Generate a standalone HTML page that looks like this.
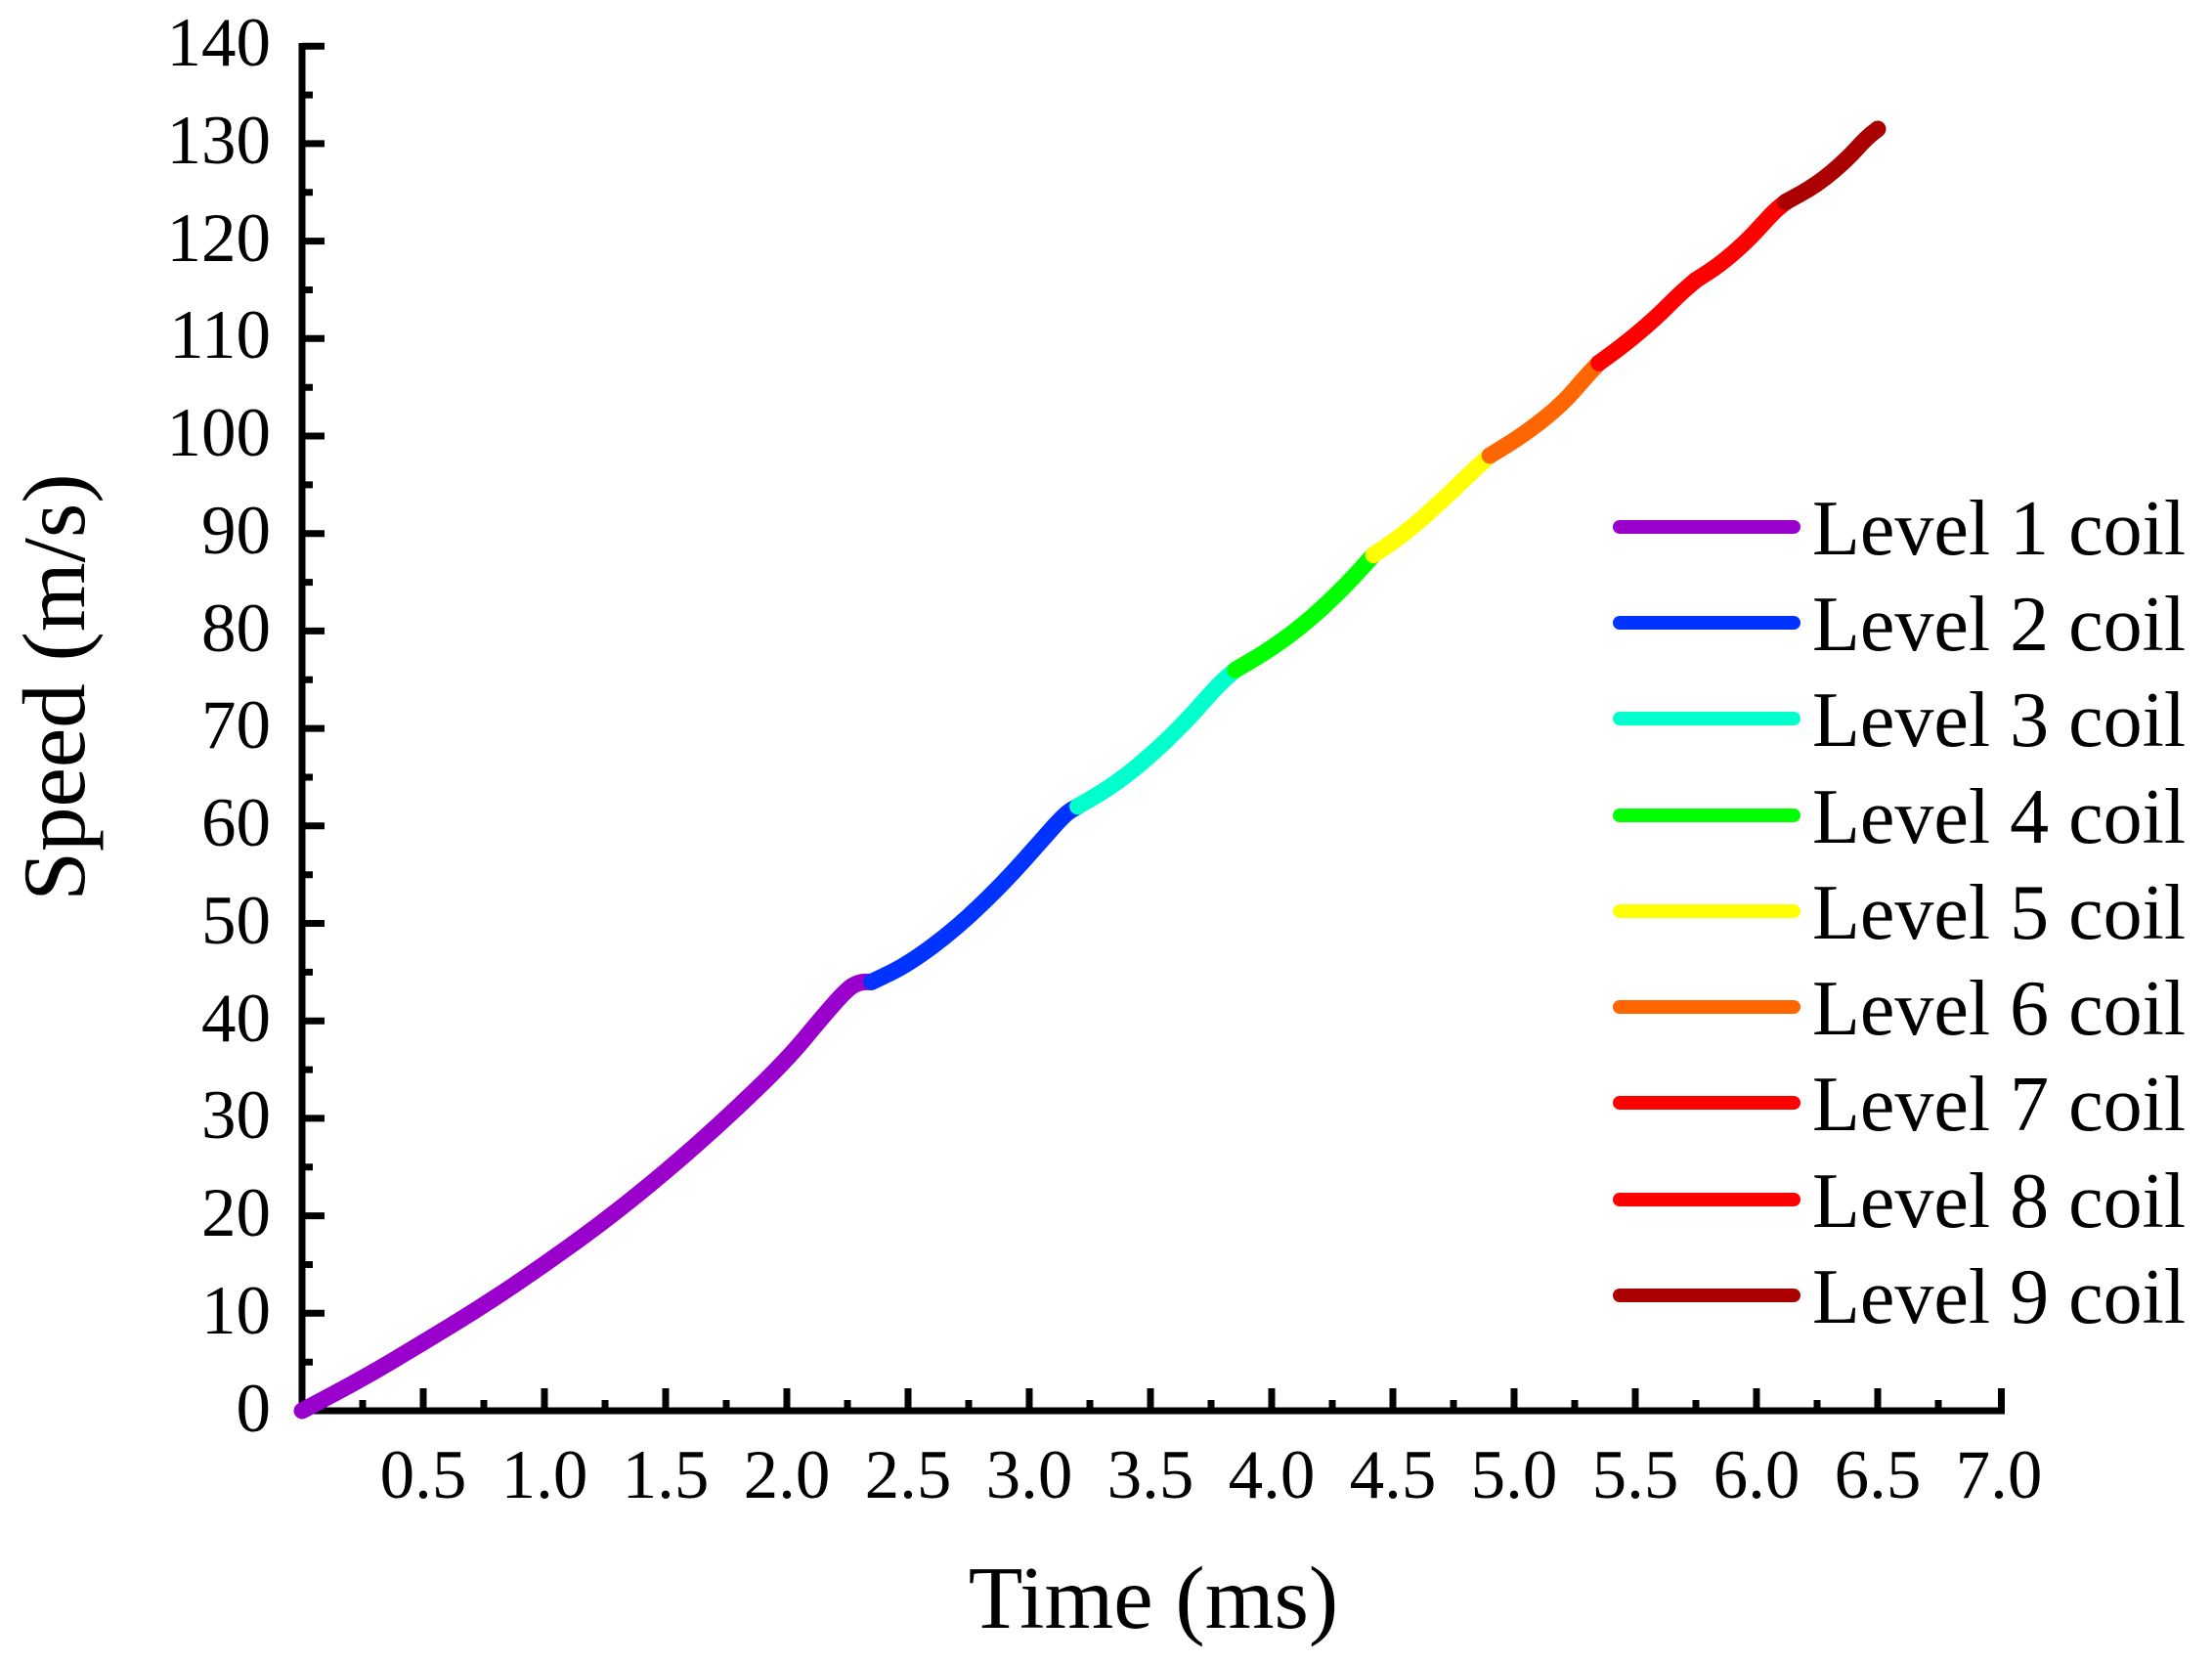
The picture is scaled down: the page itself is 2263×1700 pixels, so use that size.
<!DOCTYPE html>
<html><head><meta charset="utf-8"><style>
html,body{margin:0;padding:0;background:#fff}
svg{display:block}
text{font-family:"Liberation Serif",serif;fill:#000}
</style></head><body>
<svg width="2263" height="1700" viewBox="0 0 2263 1700" xmlns="http://www.w3.org/2000/svg">
<g stroke="#000" stroke-width="7" fill="none">
<line x1="309" y1="44" x2="309" y2="1446.5"/>
<line x1="305.5" y1="1443" x2="2051" y2="1443"/>
</g>
<g transform="translate(309,1443) scale(248,-9.97)" fill="none" stroke-width="17" stroke-linecap="round" stroke-linejoin="round">
<path vector-effect="non-scaling-stroke" stroke="#9900cc" d="M0,0 L0.125,1.65 Q0.25,3.3 0.375,5.15 Q0.5,7 0.625,8.9 Q0.75,10.8 0.875,12.9 Q1,15 1.125,17.25 Q1.25,19.5 1.375,22 Q1.5,24.5 1.625,27.25 Q1.75,30 1.875,33 Q2,36 2.075,38.25 Q2.15,40.5 2.2,41.9 Q2.25,43.3 2.275,43.65 Q2.3,44 2.325,44 L2.35,44"/>
<path vector-effect="non-scaling-stroke" stroke="#0033ff" d="M2.35,44 L2.425,44.9 Q2.5,45.8 2.6,47.65 Q2.7,49.5 2.8,51.9 Q2.9,54.3 2.975,56.4 Q3.05,58.5 3.1,59.9 Q3.15,61.3 3.175,61.65 L3.2,62"/>
<path vector-effect="non-scaling-stroke" stroke="#00ffcc" d="M3.2,62 L3.275,63.1 Q3.35,64.2 3.425,65.7 Q3.5,67.2 3.575,69 Q3.65,70.8 3.715,72.65 Q3.78,74.5 3.815,75.25 L3.85,76"/>
<path vector-effect="non-scaling-stroke" stroke="#00ff00" d="M3.85,76 L3.925,77.1 Q4,78.2 4.075,79.6 Q4.15,81 4.225,82.75 Q4.3,84.5 4.36,86.15 L4.42,87.8"/>
<path vector-effect="non-scaling-stroke" stroke="#ffff00" d="M4.42,87.8 L4.485,88.9 Q4.55,90 4.625,91.65 Q4.7,93.3 4.76,94.75 Q4.82,96.2 4.86,97.1 L4.9,98"/>
<path vector-effect="non-scaling-stroke" stroke="#ff6600" d="M4.9,98 L4.975,99.15 Q5.05,100.3 5.125,101.8 Q5.2,103.3 5.25,104.75 Q5.3,106.2 5.325,106.85 L5.35,107.5"/>
<path vector-effect="non-scaling-stroke" stroke="#ff0000" d="M5.35,107.5 L5.4,108.4 Q5.45,109.3 5.515,110.65 Q5.58,112 5.63,113.25 Q5.68,114.5 5.715,115.25 L5.75,116"/>
<path vector-effect="non-scaling-stroke" stroke="#ff0000" d="M5.75,116 L5.8,116.8 Q5.85,117.6 5.91,118.9 Q5.97,120.2 6.02,121.6 Q6.07,123 6.095,123.5 L6.12,124"/>
<path vector-effect="non-scaling-stroke" stroke="#aa0000" d="M6.12,124 L6.185,124.9 Q6.25,125.8 6.31,127.05 Q6.37,128.3 6.41,129.4 Q6.45,130.5 6.475,131 L6.5,131.5"/>
</g>
<g stroke-width="14" stroke-linecap="round">
<line x1="1657" y1="539" x2="1835" y2="539" stroke="#9900cc"/>
<line x1="1657" y1="637" x2="1835" y2="637" stroke="#0033ff"/>
<line x1="1657" y1="735" x2="1835" y2="735" stroke="#00ffcc"/>
<line x1="1657" y1="834" x2="1835" y2="834" stroke="#00ff00"/>
<line x1="1657" y1="932" x2="1835" y2="932" stroke="#ffff00"/>
<line x1="1657" y1="1030" x2="1835" y2="1030" stroke="#ff6600"/>
<line x1="1657" y1="1128" x2="1835" y2="1128" stroke="#ff0000"/>
<line x1="1657" y1="1227" x2="1835" y2="1227" stroke="#ff0000"/>
<line x1="1657" y1="1325" x2="1835" y2="1325" stroke="#aa0000"/>
</g>
<g font-size="80">
<text x="1854" y="567">Level 1 coil</text>
<text x="1854" y="665">Level 2 coil</text>
<text x="1854" y="763">Level 3 coil</text>
<text x="1854" y="862">Level 4 coil</text>
<text x="1854" y="960">Level 5 coil</text>
<text x="1854" y="1058">Level 6 coil</text>
<text x="1854" y="1156">Level 7 coil</text>
<text x="1854" y="1255">Level 8 coil</text>
<text x="1854" y="1353">Level 9 coil</text>
</g>
<text x="1180" y="1665" font-size="91" text-anchor="middle">Time (ms)</text>
<text transform="translate(86,703) rotate(-90)" font-size="91" text-anchor="middle">Speed (m/s)</text>
<g font-size="71" text-anchor="end">
<text x="277" y="1464">0</text><text x="277" y="1364">10</text><text x="277" y="1264">20</text><text x="277" y="1164">30</text><text x="277" y="1065">40</text><text x="277" y="965">50</text><text x="277" y="865">60</text><text x="277" y="765">70</text><text x="277" y="666">80</text><text x="277" y="566">90</text><text x="277" y="466">100</text><text x="277" y="366">110</text><text x="277" y="267">120</text><text x="277" y="167">130</text><text x="277" y="67">140</text>
</g>
<g font-size="71" text-anchor="middle">
<text x="433" y="1532">0.5</text><text x="557" y="1532">1.0</text><text x="681" y="1532">1.5</text><text x="805" y="1532">2.0</text><text x="929" y="1532">2.5</text><text x="1053" y="1532">3.0</text><text x="1177" y="1532">3.5</text><text x="1301" y="1532">4.0</text><text x="1425" y="1532">4.5</text><text x="1549" y="1532">5.0</text><text x="1673" y="1532">5.5</text><text x="1797" y="1532">6.0</text><text x="1921" y="1532">6.5</text><text x="2045" y="1532">7.0</text>
</g>
<g stroke="#000" stroke-width="7">
<path d="M309 1343.3h23M309 1243.6h23M309 1143.9h23M309 1044.2h23M309 944.5h23M309 844.8h23M309 745.1h23M309 645.4h23M309 545.7h23M309 446h23M309 346.3h23M309 246.6h23M309 146.9h23M309 47.2h23"/>
<path d="M309 1393.2h11M309 1293.5h11M309 1193.8h11M309 1094.1h11M309 994.4h11M309 894.7h11M309 795h11M309 695.3h11M309 595.6h11M309 495.9h11M309 396.2h11M309 296.5h11M309 196.8h11M309 97.1h11"/>
<path d="M433 1443v-23M557 1443v-23M681 1443v-23M805 1443v-23M929 1443v-23M1053 1443v-23M1177 1443v-23M1301 1443v-23M1425 1443v-23M1549 1443v-23M1673 1443v-23M1797 1443v-23M1921 1443v-23M2047.5 1443v-23"/>
<path d="M371 1443v-11M495 1443v-11M619 1443v-11M743 1443v-11M867 1443v-11M991 1443v-11M1115 1443v-11M1239 1443v-11M1363 1443v-11M1487 1443v-11M1611 1443v-11M1735 1443v-11M1859 1443v-11M1983 1443v-11"/>
</g>
</svg>
</body></html>
